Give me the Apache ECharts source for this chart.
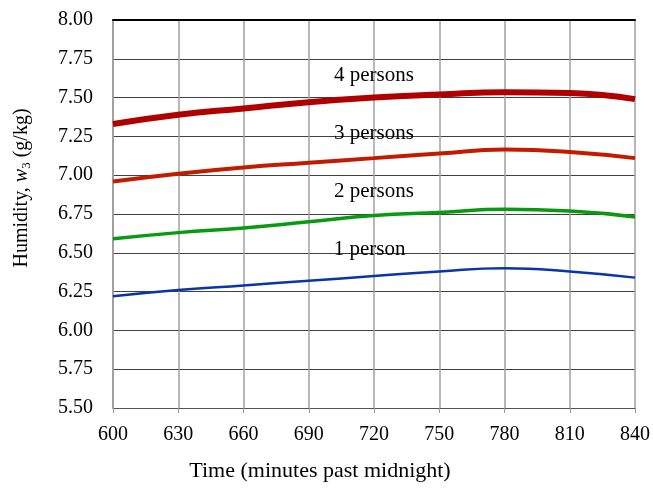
<!DOCTYPE html>
<html><head><meta charset="utf-8">
<script src="https://cdn.jsdelivr.net/npm/echarts@6/dist/echarts.min.js"></script>
<style>html,body{margin:0;padding:0;background:#fff}#c{width:653px;height:489px}</style>
</head><body><div id="c"></div>
<script>
const times = [600, 630, 660, 690, 720, 750, 780, 810, 840];
const p1 = [6.22, 6.26, 6.29, 6.32, 6.35, 6.38, 6.40, 6.38, 6.34];
const p2 = [6.59, 6.63, 6.66, 6.70, 6.74, 6.76, 6.78, 6.77, 6.73];
const p3 = [6.96, 7.01, 7.05, 7.08, 7.11, 7.14, 7.165, 7.15, 7.11];
const p4 = [7.33, 7.39, 7.43, 7.47, 7.50, 7.52, 7.535, 7.53, 7.49];
const seriesNames = ['1 person', '2 persons', '3 persons', '4 persons'];
const labelPos = [[718, 6.52], [720, 6.895], [720, 7.27], [720, 7.645]];
const yTicks = ['5.50','5.75','6.00','6.25','6.50','6.75','7.00','7.25','7.50','7.75','8.00'];

const font = '"Liberation Serif", "Times New Roman", serif';
const colors = ['#0a35a8', '#089a10', '#c41a00', '#b00000'];
const widths = [2.5, 3.5, 4, 6];
const all = [p1, p2, p3, p4];

const chart = echarts.init(document.getElementById('c'));
chart.setOption({
  animation: false,
  grid: {left: 113, right: 14, top: 20, bottom: 81},
  xAxis: [{
    type: 'value', min: 600, max: 840, interval: 30,
    name: 'Time (minutes past midnight)', nameLocation: 'middle', nameGap: 52,
    nameTextStyle: {fontFamily: font, fontSize: 22, color: '#000', padding: [0, 108, 0, 0]},
    axisLine: {lineStyle: {color: '#555', width: 1}},
    axisTick: {show: true, length: 5, lineStyle: {color: '#999'}},
    axisLabel: {fontFamily: font, fontSize: 20, color: '#000', margin: 17},
    splitLine: {show: true, lineStyle: {color: '#a0a0a0', width: 1.5}}
  }, {
    type: 'value', min: 600, max: 840, position: 'top',
    axisLine: {show: true, lineStyle: {color: '#000', width: 2}},
    axisTick: {show: false}, axisLabel: {show: false}, splitLine: {show: false}
  }],
  yAxis: {
    type: 'value', min: 5.5, max: 8.0, interval: 0.25,
    name: '{a|Humidity, }{i|w}{s|3}{a| (g/kg)}', nameLocation: 'middle', nameGap: 80,
    nameTextStyle: {padding: [0, 0, 0, 52], rich: {
      a: {fontFamily: font, fontSize: 20, color: '#000'},
      i: {fontFamily: font, fontSize: 20, fontStyle: 'italic', color: '#000'},
      s: {fontFamily: font, fontSize: 13, color: '#000', verticalAlign: 'bottom', padding: [9, 0, 0, 0]}
    }},
    axisLine: {show: true, lineStyle: {color: '#999', width: 1.5}},
    axisTick: {show: false},
    axisLabel: {fontFamily: font, fontSize: 20, color: '#000', margin: 20,
      formatter: v => yTicks[Math.round((v - 5.5) / 0.25)]},
    splitLine: {show: true, lineStyle: {color: '#404040', width: 1}}
  },
  series: all.map((arr, i) => ({
    type: 'line', name: seriesNames[i], smooth: true, symbol: 'none',
    data: times.map((t, j) => [t, arr[j]]),
    lineStyle: {color: colors[i], width: widths[i]},
    markPoint: {
      symbol: 'rect', symbolSize: 1, itemStyle: {color: 'rgba(0,0,0,0)'},
      label: {show: true, formatter: seriesNames[i], position: 'inside',
        fontFamily: font, fontSize: 21, color: '#000'},
      data: [{coord: labelPos[i]}]
    }
  }))
});
</script></body></html>
